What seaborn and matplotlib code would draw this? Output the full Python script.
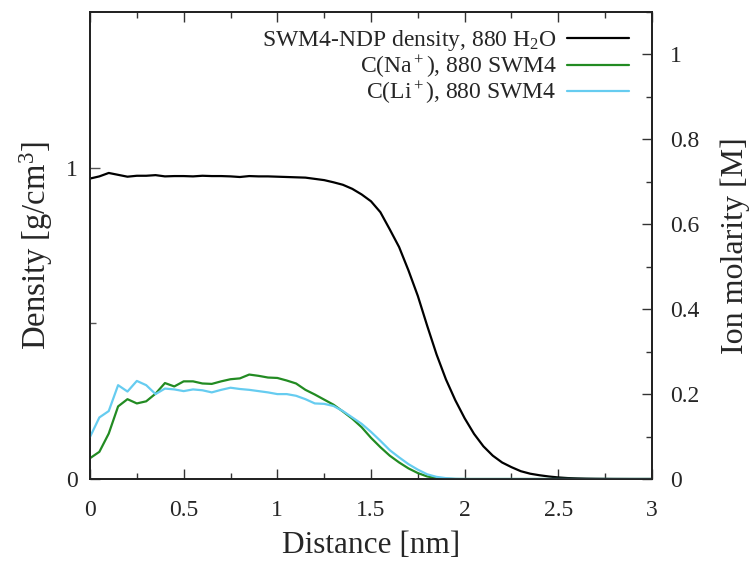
import numpy as np
import pandas as pd
import matplotlib
matplotlib.use("Agg")
import matplotlib.pyplot as plt
import seaborn as sns
from matplotlib.ticker import MultipleLocator, FixedLocator

# ---- data ----
distance = [round(0.05 * i, 2) for i in range(61)]

density = [0.965, 0.972, 0.983, 0.977, 0.971, 0.974, 0.974, 0.976, 0.972, 0.973,
           0.973, 0.972, 0.974, 0.973, 0.973, 0.972, 0.970, 0.973, 0.972, 0.972,
           0.971, 0.970, 0.969, 0.968, 0.964, 0.960, 0.953, 0.945, 0.932, 0.914,
           0.892, 0.857, 0.802, 0.745, 0.670, 0.588, 0.492, 0.400, 0.320, 0.253,
           0.195, 0.145, 0.105, 0.075, 0.053, 0.038, 0.025, 0.017, 0.012, 0.008,
           0.005, 0.003, 0.002, 0.0012, 0.0007, 0.0004, 0.0002, 0.0001, 0.0, 0.0, 0.0]

c_na = [0.049, 0.064, 0.107, 0.171, 0.188, 0.178, 0.183, 0.201, 0.226, 0.218,
        0.230, 0.230, 0.225, 0.224, 0.230, 0.235, 0.237, 0.246, 0.243, 0.239,
        0.238, 0.232, 0.225, 0.210, 0.199, 0.187, 0.175, 0.159, 0.142, 0.122,
        0.097, 0.075, 0.055, 0.039, 0.025, 0.014, 0.006, 0.002, 0.0005, 0.0,
        0.0, 0.0, 0.0, 0.0, 0.0, 0.0, 0.0, 0.0, 0.0, 0.0,
        0.0, 0.0, 0.0, 0.0, 0.0, 0.0, 0.0, 0.0, 0.0, 0.0, 0.0]

c_li = [0.099, 0.145, 0.160, 0.221, 0.206, 0.231, 0.221, 0.200, 0.213, 0.211,
        0.207, 0.211, 0.209, 0.204, 0.210, 0.215, 0.212, 0.210, 0.207, 0.204,
        0.200, 0.200, 0.196, 0.188, 0.178, 0.177, 0.172, 0.160, 0.145, 0.130,
        0.111, 0.090, 0.068, 0.051, 0.035, 0.022, 0.011, 0.005, 0.002, 0.0005,
        0.0, 0.0, 0.0, 0.0, 0.0, 0.0, 0.0, 0.0, 0.0, 0.0,
        0.0, 0.0, 0.0, 0.0, 0.0, 0.0, 0.0, 0.0, 0.0, 0.0, 0.0]

labels = ["SWM4-NDP density, 880 H$_2$O", "C(Na$^+$), 880 SWM4", "C(Li$^+$), 880 SWM4"]

# ---- style ----
sns.set_style("white")
plt.rcParams["font.family"] = ["Liberation Serif", "DejaVu Serif"]
plt.rcParams["mathtext.fontset"] = "custom"
plt.rcParams["mathtext.rm"] = "Liberation Serif"
plt.rcParams["mathtext.it"] = "Liberation Serif:italic"
plt.rcParams["mathtext.bf"] = "Liberation Serif:bold"

df_d = pd.DataFrame({"Distance": distance, "Density": density})
df_ion = pd.DataFrame({"Distance": distance * 2,
                       "C": c_na + c_li,
                       "Ion": [labels[1]] * len(distance) + [labels[2]] * len(distance)})

fig = plt.figure(figsize=(7.56, 5.62), dpi=100)
ax = fig.add_axes([90 / 756, 1 - 479 / 562, (652 - 90) / 756, (479 - 12) / 562])
ax2 = ax.twinx()

sns.lineplot(data=df_d, x="Distance", y="Density", ax=ax, color="black", lw=1.6,
             label=labels[0], legend=False)
sns.lineplot(data=df_ion, x="Distance", y="C", hue="Ion", ax=ax2,
             palette=["#228b22", "#66ccf0"], lw=1.6, legend=False)

ax.set_xlim(0, 3)
ax.set_ylim(0, 1.5)
ax2.set_ylim(0, 1.1)

ax.xaxis.set_major_locator(MultipleLocator(0.5))
ax.xaxis.set_minor_locator(MultipleLocator(0.25))
ax.yaxis.set_major_locator(FixedLocator([0, 1]))
ax.yaxis.set_minor_locator(FixedLocator([0.5]))
ax2.yaxis.set_major_locator(MultipleLocator(0.2))
ax2.yaxis.set_minor_locator(MultipleLocator(0.1))
ax.set_xticklabels([("%g" % v) for v in ax.get_xticks()])

ax.tick_params(axis="x", which="both", direction="in", top=True, bottom=True,
               labelsize=17, pad=15, color="#333333")
ax.tick_params(axis="x", which="major", length=7.5, width=1)
ax.tick_params(axis="x", which="minor", length=4, width=1)
ax.tick_params(axis="y", which="both", direction="in", left=True, right=False,
               labelsize=17, pad=9, color="#555555")
ax.tick_params(axis="y", which="major", length=7.5, width=1)
ax.tick_params(axis="y", which="minor", length=4.5, width=1)
ax2.tick_params(axis="y", which="both", direction="in", right=True, left=False,
                labelsize=17, pad=13, color="#333333")
ax2.tick_params(axis="y", which="major", length=7.5, width=1)
ax2.tick_params(axis="y", which="minor", length=4.5, width=1)
ax2.set_yticklabels([("%g" % round(v, 1)) for v in ax2.get_yticks()])

for a in (ax, ax2):
    for s in a.spines.values():
        s.set_color("#222222")
        s.set_linewidth(1.3)

ax.set_xlabel("Distance [nm]", fontsize=22.5, labelpad=7)
ax.set_ylabel("Density [g/cm$^3$]", fontsize=23.5, labelpad=8)
ax2.set_ylabel("Ion molarity [M]", fontsize=23, labelpad=15)

h1 = ax.get_lines()[:1]
h2 = ax2.get_lines()[:2]
leg = ax2.legend(h1 + h2, labels, loc="upper right", frameon=False, fontsize=17,
                 markerfirst=False, handlelength=2.6, handletextpad=0.45,
                 labelspacing=0.0, borderaxespad=0.0, bbox_to_anchor=(0.975, 0.985))
for t in leg.get_texts():
    t.set_ha("right")

fig.savefig("out.png", dpi=100)
